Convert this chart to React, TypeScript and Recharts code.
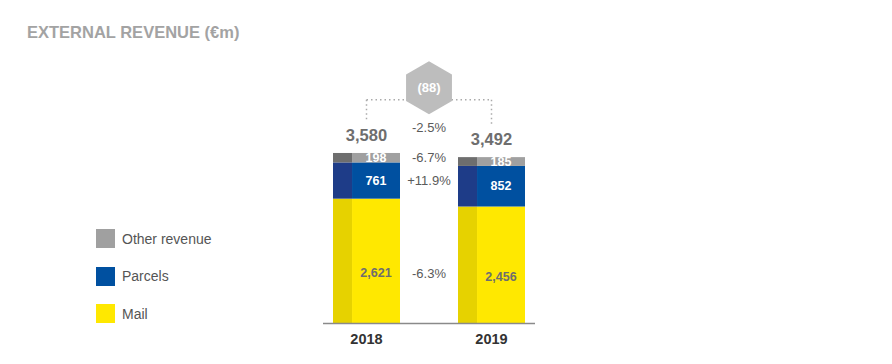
import React from 'react';
import {
  ComposedChart,
  Bar,
  XAxis,
  YAxis,
  LabelList,
  ReferenceDot,
  ReferenceLine,
  Legend,
} from 'recharts';

const years = ['2018', '2019'];
const mail = [2621, 2456];
const parcels = [761, 852];
const other = [198, 185];
const totals = [3580, 3492];
const totalChange = '-2.5%';
const otherChange = '-6.7%';
const parcelsChange = '+11.9%';
const mailChange = '-6.3%';
const totalDiff = '(88)';
const legendOrder = ['other', 'parcels', 'mail'];

const FONT = '"Liberation Sans", Arial, Helvetica, sans-serif';

const data = years.map((y, i) => ({
  x: i,
  year: y,
  mail: mail[i],
  parcels: parcels[i],
  other: other[i],
  total: totals[i],
}));

const COLORS = {
  mail: { main: '#ffe800', dark: '#e6d200' },
  parcels: { main: '#0050a0', dark: '#1e3c88' },
  other: { main: '#a0a0a0', dark: '#6e6e6e' },
};

const STRIP = 0.284;

const makeShape = (main: string, dark: string) => (props: any) => {
  const { x, y, width, height } = props;
  if (!height || height <= 0) return <g />;
  const sw = width * STRIP;
  return (
    <g>
      <rect x={x} y={y} width={sw} height={height} fill={dark} />
      <rect x={x + sw} y={y} width={width - sw} height={height} fill={main} />
    </g>
  );
};

const MAIL_DY = 12;

const segLabel = (color: string, dy: number) => (props: any) => {
  const { x, y, width, height, value } = props;
  const cx = x + width * STRIP + (width * (1 - STRIP)) / 2;
  const cy = y + height / 2 + dy;
  return (
    <text
      x={cx}
      y={cy}
      textAnchor="middle"
      dominantBaseline="central"
      fill={color}
      fontSize={12.5}
      fontWeight="bold"
      fontFamily={FONT}
    >
      {Number(value).toLocaleString('en-US')}
    </text>
  );
};

const totalLabel = (props: any) => {
  const { x, y, width, index } = props;
  return (
    <text
      x={x + width / 2}
      y={y - 18}
      textAnchor="middle"
      dominantBaseline="central"
      fill="#6e6e6e"
      fontSize={16.5}
      fontWeight="bold"
      fontFamily={FONT}
    >
      {totals[index].toLocaleString('en-US')}
    </text>
  );
};

const pctShape = (text: string, dy: number) => (props: any) => (
  <text
    x={props.cx}
    y={props.cy + dy}
    textAnchor="middle"
    dominantBaseline="central"
    fill="#5a5a5a"
    fontSize={13}
    fontFamily={FONT}
  >
    {text}
  </text>
);

const hexShape = (props: any) => {
  const { cx, cy } = props;
  const r = 26.5;
  const pts = [-90, -30, 30, 90, 150, 210]
    .map((a) => {
      const rad = (a * Math.PI) / 180;
      return `${cx + r * Math.cos(rad)},${cy + r * Math.sin(rad)}`;
    })
    .join(' ');
  return (
    <g>
      <polygon points={pts} fill="#bdbdbd" />
      <text
        x={cx}
        y={cy}
        textAnchor="middle"
        dominantBaseline="central"
        fill="#ffffff"
        fontSize={13}
        fontWeight="bold"
        fontFamily={FONT}
      >
        {totalDiff}
      </text>
    </g>
  );
};

const legendContent = (props: any) => {
  const payload = props.payload || [];
  const items = legendOrder
    .map((k) => payload.find((p: any) => p.dataKey === k))
    .filter(Boolean);
  return (
    <div style={{ fontFamily: FONT }}>
      {items.map((it: any) => (
        <div
          key={it.value}
          style={{ display: 'flex', alignItems: 'center', height: 37.5 }}
        >
          <div style={{ width: 19, height: 19, background: it.color, marginRight: 7 }} />
          <span style={{ fontSize: 14, color: '#555555' }}>{it.value}</span>
        </div>
      ))}
    </div>
  );
};

const HEX_Y = 4950;
const CONNECT_Y = 4700;
const CONNECT_GAP = 700;
const mid2018Other = mail[0] + parcels[0] + other[0] / 2;
const mid2018Parcels = mail[0] + parcels[0] / 2;
const mid2018Mail = mail[0] / 2;

export default function App() {
  return (
    <div style={{ position: 'absolute', left: 0, top: 0, width: 892, height: 364, background: '#fff' }}>
      <div
        style={{
          position: 'absolute',
          left: 27,
          top: 24,
          fontFamily: FONT,
          fontSize: 16.5,
          lineHeight: 1,
          fontWeight: 'bold',
          color: '#a3a3a3',
          whiteSpace: 'nowrap',
        }}
      >
        EXTERNAL REVENUE (€m)
      </div>
      <ComposedChart
        width={892}
        height={364}
        data={data}
        margin={{ top: 52, right: 357, bottom: 0.5, left: 323 }}
      >
        <XAxis
          dataKey="x"
          type="number"
          domain={[-0.348, 1.348]}
          ticks={[0, 1]}
          allowDataOverflow
          height={40}
          tickFormatter={(v: number) => years[v]}
          axisLine={{ stroke: '#8a8a8a', strokeWidth: 1.5 }}
          tickLine={false}
          tickMargin={4.5}
          tick={{ fill: '#333333', fontSize: 14.5, fontWeight: 'bold', fontFamily: FONT }}
        />
        <YAxis hide domain={[0, 5700]} allowDataOverflow />
        <Legend
          layout="vertical"
          align="center"
          verticalAlign="middle"
          content={legendContent}
          wrapperStyle={{ position: 'absolute', left: 96, top: 220, width: 200 }}
        />
        <ReferenceLine
          segment={[{ x: 0, y: CONNECT_Y }, { x: 0.5, y: CONNECT_Y }]}
          stroke="#aaaaaa"
          strokeWidth={1.5}
          strokeDasharray="1.5 3"
          ifOverflow="visible"
        />
        <ReferenceLine
          segment={[{ x: 0.5, y: CONNECT_Y }, { x: 1, y: CONNECT_Y }]}
          stroke="#aaaaaa"
          strokeWidth={1.5}
          strokeDasharray="1.5 3"
          ifOverflow="visible"
        />
        <ReferenceLine
          segment={[{ x: 0, y: CONNECT_Y }, { x: 0, y: totals[0] + CONNECT_GAP }]}
          stroke="#aaaaaa"
          strokeWidth={1.5}
          strokeDasharray="1.5 3"
          ifOverflow="visible"
        />
        <ReferenceLine
          segment={[{ x: 1, y: CONNECT_Y }, { x: 1, y: totals[1] + CONNECT_GAP }]}
          stroke="#aaaaaa"
          strokeWidth={1.5}
          strokeDasharray="1.5 3"
          ifOverflow="visible"
        />
        <Bar
          dataKey="mail"
          name="Mail"
          stackId="a"
          fill={COLORS.mail.main}
          barSize={67}
          isAnimationActive={false}
          shape={makeShape(COLORS.mail.main, COLORS.mail.dark)}
        >
          <LabelList dataKey="mail" content={segLabel('#6e6e6e', MAIL_DY)} />
        </Bar>
        <Bar
          dataKey="parcels"
          name="Parcels"
          stackId="a"
          fill={COLORS.parcels.main}
          barSize={67}
          isAnimationActive={false}
          shape={makeShape(COLORS.parcels.main, COLORS.parcels.dark)}
        >
          <LabelList dataKey="parcels" content={segLabel('#ffffff', 0)} />
        </Bar>
        <Bar
          dataKey="other"
          name="Other revenue"
          stackId="a"
          fill={COLORS.other.main}
          barSize={67}
          isAnimationActive={false}
          shape={makeShape(COLORS.other.main, COLORS.other.dark)}
        >
          <LabelList dataKey="other" content={segLabel('#ffffff', 0)} />
          <LabelList dataKey="total" content={totalLabel} />
        </Bar>
        <ReferenceDot x={0.5} y={HEX_Y} ifOverflow="visible" shape={hexShape} />
        <ReferenceDot x={0.5} y={totals[0]} ifOverflow="visible" shape={pctShape(totalChange, -25)} />
        <ReferenceDot x={0.5} y={mid2018Other} ifOverflow="visible" shape={pctShape(otherChange, 0)} />
        <ReferenceDot x={0.5} y={mid2018Parcels} ifOverflow="visible" shape={pctShape(parcelsChange, 0)} />
        <ReferenceDot x={0.5} y={mid2018Mail} ifOverflow="visible" shape={pctShape(mailChange, MAIL_DY)} />
      </ComposedChart>
    </div>
  );
}
